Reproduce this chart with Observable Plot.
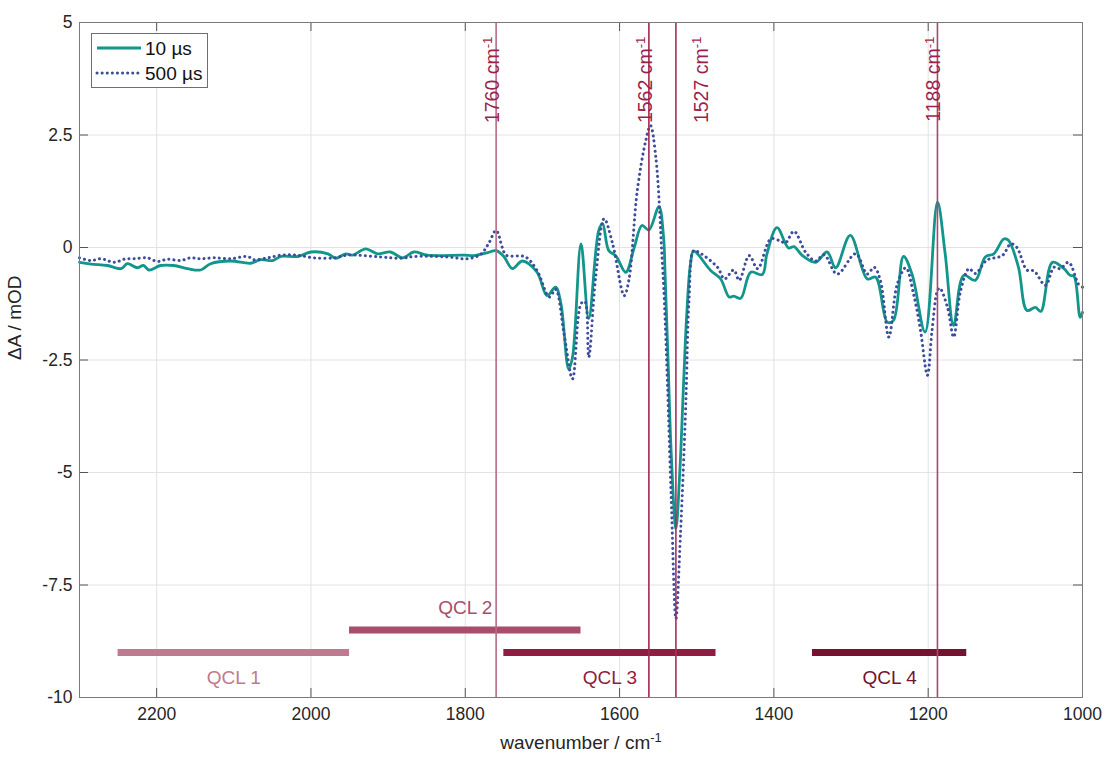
<!DOCTYPE html>
<html>
<head>
<meta charset="utf-8">
<script src="https://cdn.jsdelivr.net/npm/d3@7"></script>
<script src="https://cdn.jsdelivr.net/npm/@observablehq/plot@0.6"></script>
<style>
  body { margin: 0; background: #fff; }
  #chart { width: 1105px; height: 760px; }
</style>
</head>
<body>
<div id="chart"></div>
<script>
// ---- data ----
const wn10 = [2300,2285,2264,2246,2238,2225,2217,2210,2195,2178,2160,2143,2130,2104,2078,2065,2050,2039,2017,2000,1978,1968,1955,1946,1929,1914,1897,1881,1867,1849,1802,1789,1772,1760,1750,1739,1726,1707,1694,1683,1676,1666,1661,1650,1640,1627,1622,1614,1605,1592,1581,1571,1562,1549,1543,1541,1537,1533,1527,1522,1517,1513,1508,1504,1482,1469,1458,1452,1443,1430,1415,1409,1396,1381,1374,1363,1346,1331,1320,1301,1279,1268,1253,1245,1232,1221,1204,1188,1178,1167,1154,1139,1126,1115,1102,1096,1083,1072,1061,1054,1039,1024,1016,1011,1003,1000];
const dA10 = [-0.33,-0.37,-0.40,-0.47,-0.36,-0.45,-0.40,-0.50,-0.40,-0.40,-0.47,-0.50,-0.36,-0.30,-0.35,-0.27,-0.29,-0.20,-0.20,-0.10,-0.14,-0.24,-0.14,-0.17,-0.03,-0.14,-0.10,-0.23,-0.10,-0.17,-0.17,-0.18,-0.12,-0.07,-0.20,-0.47,-0.30,-0.55,-1.07,-0.88,-1.25,-2.70,-2.44,0.08,-1.58,0.38,0.53,-0.07,-0.18,-0.55,0.00,0.49,0.39,0.91,0.23,-0.60,-2.60,-4.60,-6.25,-5.00,-3.00,-1.50,-0.35,-0.08,-0.51,-0.70,-1.10,-1.08,-1.13,-0.55,-0.60,-0.14,0.44,-0.01,0.02,-0.18,-0.33,-0.10,-0.45,0.27,-0.70,-0.66,-1.66,-1.62,-0.20,-0.59,-1.88,1.01,-0.14,-1.73,-0.62,-0.73,-0.21,-0.14,0.19,0.16,-0.44,-1.40,-1.33,-1.42,-0.33,-0.47,-0.62,-0.64,-1.55,-1.44];

const wn500 = [2300,2285,2272,2255,2242,2229,2212,2199,2186,2169,2156,2143,2126,2104,2082,2074,2056,2039,2018,1996,1970,1953,1910,1884,1866,1823,1797,1780,1770,1760,1752,1747,1722,1707,1691,1683,1672,1661,1650,1645,1640,1631,1620,1609,1594,1588,1577,1566,1560,1553,1545,1542,1538,1533,1527,1521,1514,1510,1504,1498,1473,1464,1452,1445,1432,1421,1404,1391,1385,1374,1359,1346,1335,1318,1294,1279,1270,1262,1251,1240,1229,1219,1210,1201,1195,1188,1185,1175,1167,1158,1147,1139,1124,1104,1093,1085,1072,1063,1048,1037,1029,1018,1005,1000];
const dA500 = [-0.23,-0.29,-0.25,-0.33,-0.26,-0.25,-0.23,-0.31,-0.26,-0.29,-0.23,-0.25,-0.23,-0.25,-0.20,-0.27,-0.23,-0.17,-0.17,-0.23,-0.23,-0.17,-0.21,-0.24,-0.20,-0.21,-0.25,-0.15,0.08,0.38,0.00,-0.17,-0.21,-0.51,-1.10,-0.93,-1.92,-2.92,-1.25,-1.20,-2.44,-0.66,0.64,0.08,-1.07,-0.73,1.27,2.38,2.71,2.00,-0.21,-1.18,-3.00,-5.60,-8.25,-6.36,-3.40,-1.18,-0.07,-0.10,-0.44,-0.70,-0.50,-0.73,-0.18,-0.47,0.19,0.14,0.10,0.36,-0.10,-0.30,-0.16,-0.59,-0.14,-0.59,-0.44,-0.73,-1.99,-0.81,-0.45,-1.03,-1.84,-2.84,-1.84,-0.96,-0.90,-1.33,-1.99,-0.96,-0.47,-0.58,-0.28,-0.18,0.08,0.00,-0.50,-0.52,-0.84,-0.44,-0.47,-0.33,-0.82,-0.88];

const seriesNames = ["10 µs", "500 µs"];

const xTicks = [2200, 2000, 1800, 1600, 1400, 1200, 1000];
const yTicks = [5, 2.5, 0, -2.5, -5, -7.5, -10];
const yTickLabels = ["5", "2.5", "0", "-2.5", "-5", "-7.5", "-10"];

const markerWn = [1760, 1562, 1527, 1188];
const markerLabel = ["1760 cm^-1", "1562 cm^-1", "1527 cm^-1", "1188 cm^-1"];
const markerSide = ["left", "left", "right", "left"];
const markerColor = ["#b66b85", "#a3284f", "#a5335a", "#a9486d"];

const qclName = ["QCL 1", "QCL 2", "QCL 3", "QCL 4"];
const qclFrom = [2250, 1950, 1750, 1350];
const qclTo = [1950, 1650, 1475, 1150];
const qclLevel = [-9, -8.5, -9, -9];
const qclSide = ["below", "above", "below", "below"];
const qclColor = ["#c07a8f", "#a84e6c", "#8f1d42", "#74122f"];

// ---- tables ----
const s10 = wn10.map((w, i) => ({wn: w, v: dA10[i]}));
const s500 = wn500.map((w, i) => ({wn: w, v: dA500[i]}));
const markers = markerWn.map((w, i) => ({wn: w, label: markerLabel[i], side: markerSide[i], color: markerColor[i]}));
const qcl = qclName.map((n, i) => ({name: n, from: qclFrom[i], to: qclTo[i], mid: (qclFrom[i] + qclTo[i]) / 2, level: qclLevel[i], side: qclSide[i], color: qclColor[i]}));

const W = 1105, H = 760, mL = 79, mR = 23, mT = 22, mB = 63;
const xDom = [2300, 1000], yDom = [-10, 5];
const tickPx = 9;
const tyLen = tickPx * (yDom[1] - yDom[0]) / (H - mT - mB);
const txLen = tickPx * (xDom[0] - xDom[1]) / (W - mL - mR);
const font = "'Liberation Sans', Arial, Helvetica, sans-serif";
const teal = "#12958a", navy = "#3d4c9d";
const dots = "0.1,5";

const chart = Plot.plot({
  width: W, height: H,
  marginLeft: mL, marginRight: mR, marginTop: mT, marginBottom: mB,
  style: {fontFamily: font, fontSize: "17.5px", color: "#262626", background: "white"},
  x: {domain: xDom, label: null},
  y: {domain: yDom, label: null},
  marks: [
    Plot.gridX(xTicks, {stroke: "#e2e2e2", strokeOpacity: 1}),
    Plot.gridY(yTicks, {stroke: "#e2e2e2", strokeOpacity: 1}),
    Plot.ruleY(qcl, {y: "level", x1: "from", x2: "to", stroke: "color", strokeWidth: 7}),
    Plot.text(qcl.filter(d => d.side === "below"), {x: "mid", y: "level", text: "name", fill: "color", dy: 25, fontSize: 19}),
    Plot.text(qcl.filter(d => d.side === "above"), {x: "mid", y: "level", text: "name", fill: "color", dy: -22, fontSize: 19}),
    Plot.line(s10, {x: "wn", y: "v", stroke: teal, strokeWidth: 2.8, curve: "catmull-rom"}),
    Plot.line(s500, {x: "wn", y: "v", stroke: navy, strokeWidth: 3, strokeDasharray: dots, strokeLinecap: "round", curve: "catmull-rom"}),
    Plot.ruleX(markers, {x: "wn", stroke: "color", strokeWidth: 1.6}),
    Plot.text(markers.filter(d => d.side === "left"), {x: "wn", frameAnchor: "top", text: "label", rotate: -90, textAnchor: "end", fill: "#9c1f4c", dx: -11, dy: 14, fontSize: 19.5}),
    Plot.text(markers.filter(d => d.side === "right"), {x: "wn", frameAnchor: "top", text: "label", rotate: -90, textAnchor: "end", fill: "#9c1f4c", dx: 18, dy: 14, fontSize: 19.5}),
    // inward ticks (MATLAB style) on all four sides
    Plot.ruleX(xTicks, {x: d => d, y1: yDom[0], y2: yDom[0] + tyLen, stroke: "#555"}),
    Plot.ruleX(xTicks, {x: d => d, y1: yDom[1], y2: yDom[1] - tyLen, stroke: "#555"}),
    Plot.ruleY(yTicks, {y: d => d, x1: xDom[0], x2: xDom[0] - txLen, stroke: "#555"}),
    Plot.ruleY(yTicks, {y: d => d, x1: xDom[1], x2: xDom[1] + txLen, stroke: "#555"}),
    Plot.axisX(xTicks, {anchor: "bottom", tickSize: 0, tickPadding: 10, label: null, fill: "#262626", tickFormat: d => String(d)}),
    Plot.axisY(yTicks, {anchor: "left", tickSize: 0, tickPadding: 7, label: null, fill: "#262626", tickFormat: d => yTickLabels[yTicks.indexOf(d)]}),
    Plot.frame({stroke: "#7a7a7a", strokeWidth: 1}),
    Plot.text(["wavenumber / cm^-1"], {frameAnchor: "bottom", dy: 51, fontSize: 19, fill: "#262626"}),
    Plot.text(["ΔA / mOD"], {frameAnchor: "left", rotate: -90, dx: -65, fontSize: 19, fill: "#262626"})
  ]
});

document.getElementById("chart").appendChild(chart);

// superscripts for "cm^-1"
d3.select(chart).selectAll("text").each(function () {
  const t = this;
  const s = t.textContent;
  if (s.includes("^")) {
    const [a, b] = s.split("^");
    t.textContent = a;
    const ts = document.createElementNS("http://www.w3.org/2000/svg", "tspan");
    ts.setAttribute("dy", "-0.5em");
    ts.setAttribute("font-size", "0.68em");
    ts.textContent = b;
    t.appendChild(ts);
  }
});

// legend box inside the axes (top-left)
const lg = d3.select(chart).append("g").attr("font-family", font).attr("font-size", 19)
  .attr("fill", "#111").attr("text-anchor", "start");
lg.append("rect").attr("x", 91.5).attr("y", 33.5).attr("width", 116).attr("height", 54)
  .attr("fill", "white").attr("stroke", "#6f6f6f").attr("stroke-width", 1);
const entries = [{name: seriesNames[0], color: teal, dash: null, cap: "butt"}, {name: seriesNames[1], color: navy, dash: dots, cap: "round"}];
entries.forEach((e, i) => {
  const y = 48 + i * 25;
  lg.append("line").attr("x1", 97).attr("x2", 141).attr("y1", y).attr("y2", y)
    .attr("stroke", e.color).attr("stroke-width", i ? 3 : 2.8).attr("stroke-dasharray", e.dash)
    .attr("stroke-linecap", e.cap);
  lg.append("text").attr("x", 145).attr("y", y).attr("dy", "0.35em").attr("text-anchor", "start").text(e.name);
});
</script>
</body>
</html>
